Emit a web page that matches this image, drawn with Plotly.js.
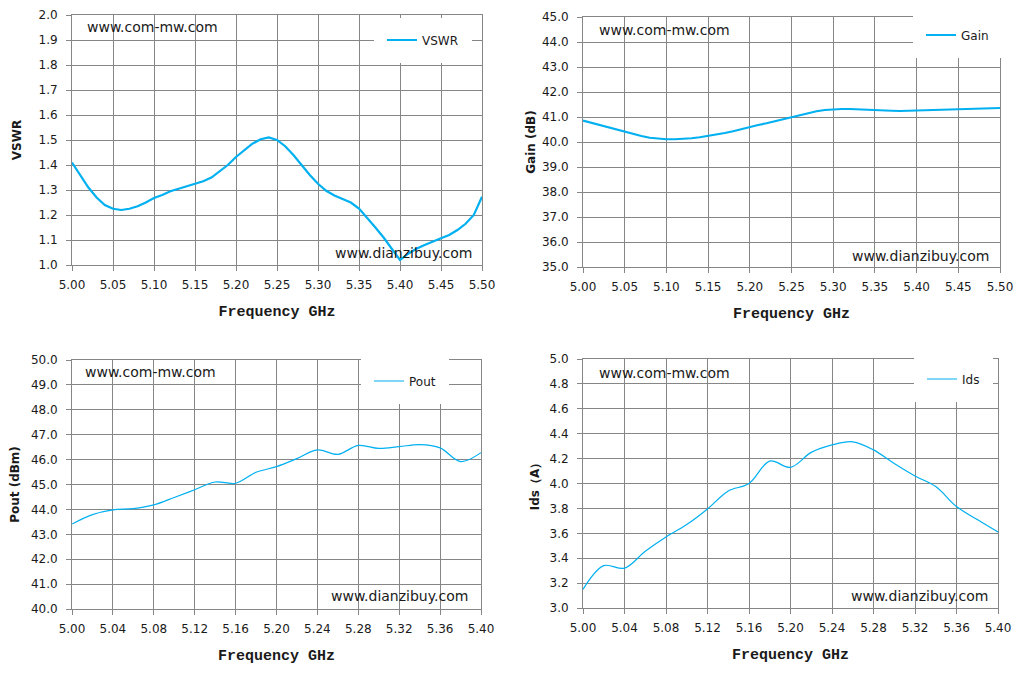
<!DOCTYPE html>
<html>
<head>
<meta charset="utf-8">
<script src="https://cdn.plot.ly/plotly-3.0.1.min.js"></script>
<style>
  html, body { margin: 0; padding: 0; background: #fff; }
  #chart { width: 1026px; height: 675px; }
</style>
</head>
<body>
<div id="chart"></div>
<script>
// ---------------------------------------------------------------------------
// data, one array per series
// ---------------------------------------------------------------------------
var freqWide = [5.00, 5.01, 5.02, 5.03, 5.04, 5.05, 5.06, 5.07, 5.08, 5.09,
                5.10, 5.11, 5.12, 5.13, 5.14, 5.15, 5.16, 5.17, 5.18, 5.19,
                5.20, 5.21, 5.22, 5.23, 5.24, 5.25, 5.26, 5.27, 5.28, 5.29,
                5.30, 5.31, 5.32, 5.33, 5.34, 5.35, 5.36, 5.37, 5.38, 5.39,
                5.40, 5.41, 5.42, 5.43, 5.44, 5.45, 5.46, 5.47, 5.48, 5.49, 5.50];

var vswr = [1.41, 1.36, 1.31, 1.27, 1.24, 1.225, 1.22, 1.225, 1.235, 1.25,
            1.268, 1.28, 1.295, 1.305, 1.315, 1.325, 1.335, 1.35, 1.375, 1.40,
            1.432, 1.46, 1.485, 1.503, 1.51, 1.50, 1.475, 1.44, 1.40, 1.36,
            1.325, 1.297, 1.278, 1.265, 1.25, 1.226, 1.19, 1.15, 1.11, 1.065,
            1.02, 1.045, 1.065, 1.08, 1.095, 1.107, 1.12, 1.14, 1.165, 1.20, 1.273];

var gain = [40.86, 40.77, 40.68, 40.58, 40.48, 40.39, 40.31, 40.24, 40.17, 40.13,
            40.11, 40.11, 40.12, 40.15, 40.19, 40.24, 40.29, 40.36, 40.43, 40.52,
            40.61, 40.68, 40.75, 40.83, 40.91, 41.00, 41.08, 41.16, 41.23, 41.28,
            41.31, 41.32, 41.32, 41.30, 41.28, 41.27, 41.26, 41.25, 41.24, 41.25,
            41.27, 41.29, 41.31, 41.32, 41.32, 41.33, 41.34, 41.35, 41.36, 41.36, 41.36];

var freqNarrow = [5.00, 5.02, 5.04, 5.06, 5.08, 5.10, 5.12, 5.14, 5.16, 5.18, 5.20,
                  5.22, 5.24, 5.26, 5.28, 5.30, 5.32, 5.34, 5.36, 5.38, 5.40];

var pout = [43.41, 43.79, 43.98, 44.03, 44.18, 44.48, 44.79, 45.10, 45.05, 45.49, 45.72,
            46.04, 46.39, 46.21, 46.57, 46.45, 46.52, 46.60, 46.47, 45.92, 46.28];

var ids = [3.15, 3.34, 3.32, 3.455, 3.57, 3.67, 3.795, 3.94, 4.00, 4.18, 4.13,
           4.25, 4.31, 4.335, 4.27, 4.16, 4.06, 3.975, 3.815, 3.71, 3.61];

var xTitle = 'Frequency GHz';
var siteTop = 'www.com-mw.com';
var siteBottom = 'www.dianzibuy.com';

// ---------------------------------------------------------------------------
var W = 1026, H = 675;
var LINE = '#00b0f0';
var GRID = '#868686';
var TEXT = '#1a1a1a';
function px(x) { return x / W; }
function py(y) { return 1 - y / H; }

function makeXAxis(dom, anchor, range, dtick) {
    return {
        domain: dom, anchor: anchor, range: range, dtick: dtick, tick0: 5.0,
        tickformat: '.2f', showline: true, mirror: true, linecolor: GRID, linewidth: 1,
        showgrid: true, gridcolor: GRID, gridwidth: 1, zeroline: false,
        ticks: 'outside', ticklen: 5, tickcolor: GRID, ticklabelstandoff: 4,
        tickfont: {family: 'DejaVu Sans', size: 12, color: TEXT},
        title: {text: xTitle, standoff: 14,
                font: {family: 'Liberation Mono', size: 15, color: TEXT, weight: 'bold'}}
    };
}

function makeYAxis(dom, anchor, range, dtick, ytitle, gap) {
    return {
        domain: dom, anchor: anchor, range: range, dtick: dtick, tick0: range[0],
        tickformat: '.1f', showline: true, mirror: true, linecolor: GRID, linewidth: 1,
        showgrid: true, gridcolor: GRID, gridwidth: 1, zeroline: false,
        ticks: 'outside', ticklen: 5, tickcolor: GRID, ticklabelstandoff: 6,
        tickfont: {family: 'DejaVu Sans', size: 12, color: TEXT},
        title: {text: ytitle, standoff: gap,
                font: {family: 'DejaVu Sans', size: 12, color: TEXT, weight: 'bold'}}
    };
}

function makeLegend(left, midY) {
    return {x: px(left), y: py(midY), xanchor: 'left', yanchor: 'middle',
            bgcolor: '#ffffff', bordercolor: '#ffffff', borderwidth: 8,
            font: {family: 'DejaVu Sans', size: 12, color: TEXT}};
}

function site(text, left, midY) {
    return {text: text, xref: 'paper', yref: 'paper', x: px(left), y: py(midY),
            xanchor: 'left', yanchor: 'middle', showarrow: false,
            font: {family: 'DejaVu Sans', size: 14, color: TEXT}};
}

var traces = [
    {x: freqWide, y: vswr, name: 'VSWR', xaxis: 'x', yaxis: 'y', legend: 'legend',
     type: 'scatter', mode: 'lines', line: {color: LINE, width: 2.2}},
    {x: freqWide, y: gain, name: 'Gain', xaxis: 'x2', yaxis: 'y2', legend: 'legend2',
     type: 'scatter', mode: 'lines', line: {color: LINE, width: 2.2}},
    {x: freqNarrow, y: pout, name: 'Pout', xaxis: 'x3', yaxis: 'y3', legend: 'legend3',
     type: 'scatter', mode: 'lines', line: {color: LINE, width: 1.2, shape: 'spline', smoothing: 1}},
    {x: freqNarrow, y: ids, name: 'Ids', xaxis: 'x4', yaxis: 'y4', legend: 'legend4',
     type: 'scatter', mode: 'lines', line: {color: LINE, width: 1.2, shape: 'spline', smoothing: 1}}
];

var layout = {
    width: W, height: H, margin: {l: 0, r: 0, t: 0, b: 0},
    paper_bgcolor: '#ffffff', plot_bgcolor: '#ffffff', showlegend: true,
    xaxis:  makeXAxis([px(72), px(482)], 'y', [5.0, 5.5], 0.05),
    yaxis:  makeYAxis([py(265), py(15)], 'x', [1.0, 2.0], 0.1, 'VSWR', 14),
    xaxis2: makeXAxis([px(583), px(1000)], 'y2', [5.0, 5.5], 0.05),
    yaxis2: makeYAxis([py(267), py(17)], 'x2', [35, 45], 1, 'Gain (dB)', 3),
    xaxis3: makeXAxis([px(72), px(481)], 'y3', [5.0, 5.4], 0.04),
    yaxis3: makeYAxis([py(609), py(360)], 'x3', [40, 50], 1, 'Pout (dBm)', 8),
    xaxis4: makeXAxis([px(583), px(998)], 'y4', [5.0, 5.4], 0.04),
    yaxis4: makeYAxis([py(608), py(359)], 'x4', [3.0, 5.0], 0.2, 'Ids（A）', 7),
    legend:  makeLegend(374, 40),
    legend2: makeLegend(913, 35),
    legend3: makeLegend(361, 381),
    legend4: makeLegend(914, 379),
    annotations: [
        site(siteTop, 85, 27), site(siteBottom, 333, 253),
        site(siteTop, 597, 30), site(siteBottom, 850, 256),
        site(siteTop, 83, 372), site(siteBottom, 329, 596),
        site(siteTop, 597, 373), site(siteBottom, 849, 596)
    ]
};

Plotly.newPlot('chart', traces, layout, {displayModeBar: false, staticPlot: true});
</script>
</body>
</html>
